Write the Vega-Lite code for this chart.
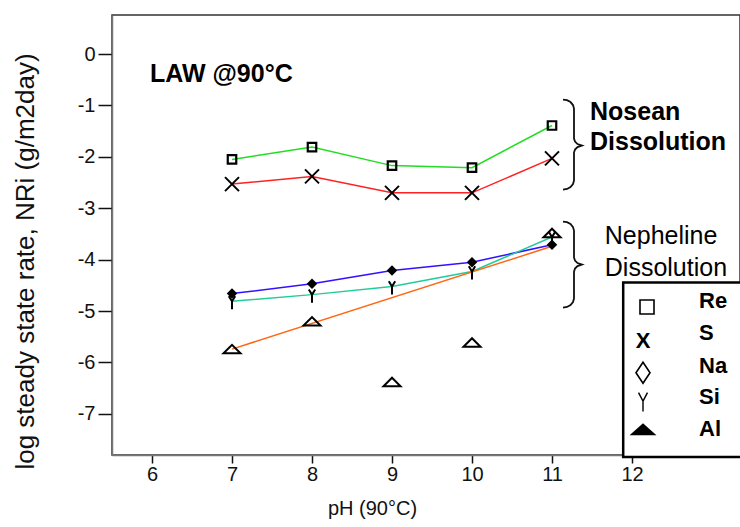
{
  "$schema": "https://vega.github.io/schema/vega-lite/v6.json",
  "width": 628,
  "height": 440,
  "autosize": {"type": "none"},
  "padding": {"left": 112, "top": 15, "right": 0, "bottom": 72},
  "background": "white",
  "config": {
    "font": "Liberation Sans",
    "view": {"stroke": "#333", "strokeWidth": 1.5},
    "axis": {"grid": false, "domainColor": "#777", "domainWidth": 1.5, "tickColor": "#111", "tickWidth": 1.5, "labelColor": "#111", "titleColor": "#111", "labelFont": "Liberation Sans", "titleFont": "Liberation Sans", "titleFontWeight": "normal", "labelFontSize": 20, "titleFontSize": 21}
  },
  "datasets": {
    "main": [
      {"ph": 7, "value": -2.05, "element": "Re"},
      {"ph": 8, "value": -1.81, "element": "Re"},
      {"ph": 9, "value": -2.17, "element": "Re"},
      {"ph": 10, "value": -2.21, "element": "Re"},
      {"ph": 11, "value": -1.39, "element": "Re"},
      {"ph": 7, "value": -2.53, "element": "S"},
      {"ph": 8, "value": -2.38, "element": "S"},
      {"ph": 9, "value": -2.70, "element": "S"},
      {"ph": 10, "value": -2.70, "element": "S"},
      {"ph": 11, "value": -2.03, "element": "S"},
      {"ph": 7, "value": -4.66, "element": "Na"},
      {"ph": 8, "value": -4.47, "element": "Na"},
      {"ph": 9, "value": -4.21, "element": "Na"},
      {"ph": 10, "value": -4.05, "element": "Na"},
      {"ph": 11, "value": -3.71, "element": "Na"},
      {"ph": 7, "value": -4.81, "element": "Si"},
      {"ph": 8, "value": -4.68, "element": "Si"},
      {"ph": 9, "value": -4.52, "element": "Si"},
      {"ph": 10, "value": -4.23, "element": "Si"},
      {"ph": 11, "value": -3.56, "element": "Si"},
      {"ph": 7, "value": -5.74, "element": "Al"},
      {"ph": 8, "value": -5.20, "element": "Al"},
      {"ph": 9, "value": -6.38, "element": "Al"},
      {"ph": 10, "value": -5.61, "element": "Al"},
      {"ph": 11, "value": -3.48, "element": "Al"}
    ],
    "alfit": [
      {"ph": 7, "value": -5.74},
      {"ph": 11, "value": -3.74}
    ],
    "braces": [
      {"brace": "Nosean", "i": 0, "ph": 11.1375, "value": -0.885},
      {"brace": "Nosean", "i": 1, "ph": 11.1875, "value": -0.897},
      {"brace": "Nosean", "i": 2, "ph": 11.23125, "value": -0.934},
      {"brace": "Nosean", "i": 3, "ph": 11.2625, "value": -0.992},
      {"brace": "Nosean", "i": 4, "ph": 11.275, "value": -1.060},
      {"brace": "Nosean", "i": 5, "ph": 11.275, "value": -1.644},
      {"brace": "Nosean", "i": 6, "ph": 11.2875, "value": -1.702},
      {"brace": "Nosean", "i": 7, "ph": 11.31875, "value": -1.751},
      {"brace": "Nosean", "i": 8, "ph": 11.375, "value": -1.780},
      {"brace": "Nosean", "i": 9, "ph": 11.31875, "value": -1.809},
      {"brace": "Nosean", "i": 10, "ph": 11.2875, "value": -1.858},
      {"brace": "Nosean", "i": 11, "ph": 11.275, "value": -1.916},
      {"brace": "Nosean", "i": 12, "ph": 11.275, "value": -2.461},
      {"brace": "Nosean", "i": 13, "ph": 11.2625, "value": -2.529},
      {"brace": "Nosean", "i": 14, "ph": 11.23125, "value": -2.588},
      {"brace": "Nosean", "i": 15, "ph": 11.1875, "value": -2.625},
      {"brace": "Nosean", "i": 16, "ph": 11.1375, "value": -2.636},
      {"brace": "Nepheline", "i": 0, "ph": 11.1375, "value": -3.259},
      {"brace": "Nepheline", "i": 1, "ph": 11.1875, "value": -3.270},
      {"brace": "Nepheline", "i": 2, "ph": 11.23125, "value": -3.307},
      {"brace": "Nepheline", "i": 3, "ph": 11.2625, "value": -3.366},
      {"brace": "Nepheline", "i": 4, "ph": 11.275, "value": -3.434},
      {"brace": "Nepheline", "i": 5, "ph": 11.275, "value": -3.959},
      {"brace": "Nepheline", "i": 6, "ph": 11.2875, "value": -4.018},
      {"brace": "Nepheline", "i": 7, "ph": 11.31875, "value": -4.066},
      {"brace": "Nepheline", "i": 8, "ph": 11.375, "value": -4.095},
      {"brace": "Nepheline", "i": 9, "ph": 11.31875, "value": -4.125},
      {"brace": "Nepheline", "i": 10, "ph": 11.2875, "value": -4.173},
      {"brace": "Nepheline", "i": 11, "ph": 11.275, "value": -4.232},
      {"brace": "Nepheline", "i": 12, "ph": 11.275, "value": -4.757},
      {"brace": "Nepheline", "i": 13, "ph": 11.2625, "value": -4.825},
      {"brace": "Nepheline", "i": 14, "ph": 11.23125, "value": -4.883},
      {"brace": "Nepheline", "i": 15, "ph": 11.1875, "value": -4.920},
      {"brace": "Nepheline", "i": 16, "ph": 11.1375, "value": -4.932}
    ],
    "legendbox": [
      {"ph": 11.89, "ph2": 13.6, "value": -4.445, "value2": -7.84}
    ],
    "legendsym": [
      {"ph": 12.1875, "value": -4.92, "sym": "Re"},
      {"ph": 12.1375, "value": -6.20, "sym": "Na"},
      {"ph": 12.1375, "value": -6.77, "sym": "Si"},
      {"ph": 12.1375, "value": -7.30, "sym": "Al"}
    ],
    "legendx": [
      {"ph": 12.1375, "value": -5.58, "text": "X"}
    ],
    "legendlabels": [
      {"ph": 12.8375, "value": -4.80, "text": "Re"},
      {"ph": 12.8375, "value": -5.42, "text": "S"},
      {"ph": 12.8375, "value": -6.07, "text": "Na"},
      {"ph": 12.8375, "value": -6.68, "text": "Si"},
      {"ph": 12.8375, "value": -7.29, "text": "Al"}
    ],
    "boldnotes": [
      {"ph": 5.975, "value": -0.379, "text": "LAW @90°C"},
      {"ph": 11.475, "value": -1.119, "text": "Nosean"},
      {"ph": 11.475, "value": -1.72, "text": "Dissolution"}
    ],
    "plainnotes": [
      {"ph": 11.66, "value": -3.54, "text": "Nepheline"},
      {"ph": 11.66, "value": -4.17, "text": "Dissolution"}
    ]
  },
  "encoding": {
    "x": {"field": "ph", "type": "quantitative", "scale": {"domain": [5.5, 13.35], "nice": false, "zero": false},
      "axis": {"values": [6, 7, 8, 9, 10, 11, 12], "labelExpr": "'' + datum.value", "tickSize": 8, "labelPadding": 1, "title": "pH (90°C)", "titleFontSize": 20, "titlePadding": 14, "titleX": 260}},
    "y": {"field": "value", "type": "quantitative", "scale": {"domain": [-7.8, 0.76], "nice": false, "zero": false},
      "axis": {"values": [-7, -6, -5, -4, -3, -2, -1, 0], "labelExpr": "'' + datum.value", "tickSize": 14, "labelPadding": 3, "title": "log steady state rate, NRi (g/m2day)", "titleFontSize": 26, "titlePadding": 39, "titleY": 246}}
  },
  "layer": [
    {
      "data": {"name": "main"},
      "transform": [{"filter": "datum.element !== 'Al'"}],
      "mark": {"type": "line", "strokeWidth": 1.5},
      "encoding": {
        "color": {"field": "element", "type": "nominal", "scale": {"domain": ["Re", "S", "Na", "Si"], "range": ["#22dd22", "#ff2222", "#3311ff", "#22cc99"]}, "legend": null}
      }
    },
    {
      "data": {"name": "alfit"},
      "mark": {"type": "line", "strokeWidth": 1.5, "color": "#ff6611"},
      "encoding": {}
    },
    {
      "data": {"name": "main"},
      "transform": [{"filter": "datum.element === 'Re'"}],
      "mark": {"type": "point", "shape": "square", "filled": false, "stroke": "#000", "strokeWidth": 2.2, "size": 72, "opacity": 1}
    },
    {
      "data": {"name": "main"},
      "transform": [{"filter": "datum.element === 'S'"}],
      "mark": {"type": "point", "shape": "M-1,-1L1,1M-1,1L1,-1", "filled": false, "stroke": "#000", "strokeWidth": 2, "size": 196, "opacity": 1}
    },
    {
      "data": {"name": "main"},
      "transform": [{"filter": "datum.element === 'Na'"}],
      "mark": {"type": "point", "shape": "diamond", "filled": true, "fill": "#000", "size": 110, "opacity": 1}
    },
    {
      "data": {"name": "main"},
      "transform": [{"filter": "datum.element === 'Si'"}],
      "mark": {"type": "point", "shape": "M-0.4,-0.65L0,0M0.4,-0.65L0,0M0,0L0,1", "filled": false, "stroke": "#000", "strokeWidth": 2, "size": 256, "opacity": 1}
    },
    {
      "data": {"name": "main"},
      "transform": [{"filter": "datum.element === 'Al'"}],
      "mark": {"type": "point", "shape": "M-1,0.5L1,0.5L0,-0.5Z", "filled": false, "stroke": "#000", "strokeWidth": 2, "size": 289, "opacity": 1}
    },
    {
      "data": {"name": "braces"},
      "mark": {"type": "line", "color": "#111", "strokeWidth": 1.8},
      "encoding": {
        "detail": {"field": "brace", "type": "nominal"},
        "order": {"field": "i", "type": "quantitative"}
      }
    },
    {
      "data": {"name": "legendbox"},
      "mark": {"type": "rect", "fill": "#fff", "stroke": "#000", "strokeWidth": 2.5},
      "encoding": {
        "x2": {"field": "ph2"},
        "y2": {"field": "value2"}
      }
    },
    {
      "data": {"name": "legendsym"},
      "transform": [{"filter": "datum.sym === 'Re'"}],
      "mark": {"type": "point", "shape": "square", "filled": false, "stroke": "#000", "strokeWidth": 1.6, "size": 196, "opacity": 1}
    },
    {
      "data": {"name": "legendsym"},
      "transform": [{"filter": "datum.sym === 'Na'"}],
      "mark": {"type": "point", "shape": "M0,-1L0.67,0L0,1L-0.67,0Z", "filled": false, "stroke": "#000", "strokeWidth": 1.6, "size": 441, "opacity": 1}
    },
    {
      "data": {"name": "legendsym"},
      "transform": [{"filter": "datum.sym === 'Si'"}],
      "mark": {"type": "point", "shape": "M-0.47,-1L0,-0.1M0.47,-1L0,-0.1M0,-0.1L0,1", "filled": false, "stroke": "#000", "strokeWidth": 1.4, "size": 361, "opacity": 1}
    },
    {
      "data": {"name": "legendsym"},
      "transform": [{"filter": "datum.sym === 'Al'"}],
      "mark": {"type": "point", "shape": "M-1,0.44L1,0.44L0,-0.44Z", "filled": true, "fill": "#000", "size": 729, "opacity": 1}
    },
    {
      "data": {"name": "legendx"},
      "mark": {"type": "text", "font": "Liberation Sans", "fontWeight": "bold", "fontSize": 22, "align": "center", "baseline": "middle", "color": "#000"},
      "encoding": {"text": {"field": "text"}}
    },
    {
      "data": {"name": "legendlabels"},
      "mark": {"type": "text", "font": "Liberation Sans", "fontWeight": "bold", "fontSize": 22, "align": "left", "baseline": "middle", "color": "#000"},
      "encoding": {"text": {"field": "text"}}
    },
    {
      "data": {"name": "boldnotes"},
      "mark": {"type": "text", "font": "Liberation Sans", "fontWeight": "bold", "fontSize": 25, "align": "left", "baseline": "middle", "color": "#000"},
      "encoding": {"text": {"field": "text"}}
    },
    {
      "data": {"name": "plainnotes"},
      "mark": {"type": "text", "font": "Liberation Sans", "fontSize": 25, "align": "left", "baseline": "middle", "color": "#000"},
      "encoding": {"text": {"field": "text"}}
    }
  ]
}
